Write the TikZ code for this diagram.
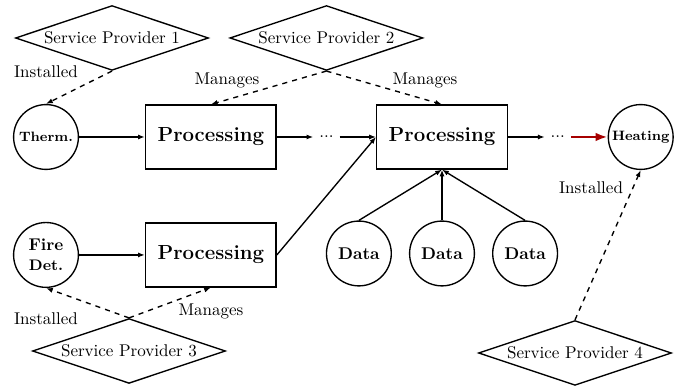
\documentclass[tikz,border=0pt]{standalone}
\usepackage{amsmath}
\usepackage{xcolor}
\usepackage{tikz}
\usetikzlibrary{arrows.meta,positioning,shapes.geometric,calc}

\begin{document}
\begin{tikzpicture}[
node distance=1.4cm,
procbox/.style={draw, thick, minimum width=2.7cm, minimum height=1.32cm, font=\large\bfseries},
sensor/.style={draw, thick, circle, minimum size=1.34cm, inner sep=1pt, align=center, font=\bfseries},
provider/.style={draw, thick, diamond, aspect=3, inner sep=1pt, minimum width=3.99cm, minimum height=1.34cm},
arrow/.style={-{Latex[length=4pt,width=3pt]}, thick},
dasharrow/.style={arrow, dashed},
lbl/.style={inner sep=1pt}
]
\useasboundingbox (-0.951,-5.210) rectangle (13.189,2.832);
\node[sensor, font=\footnotesize\bfseries] (therm) at (0,0) {Therm.};
\node[procbox, right=1.36cm of therm] (proc1) {Processing};
\node[procbox, right=2.05cm of proc1] (proc2) {Processing};
\node[sensor, font=\footnotesize\bfseries, right=2.06cm of proc2] (heat) {Heating};
\node (dots1) at ($(proc1.east)!0.5!(proc2.west)$) {...};
\node (dots2) at ($(proc2.east)!0.5!(heat.west)$) {...};
\node[sensor, below=1.07cm of therm] (fire) {Fire\\\small Det.};
\node[procbox, right=1.36cm of fire] (proc3) {Processing};
\node[sensor, below=1.05cm of proc2] (data2) {Data};
\node[sensor, left=0.35cm of data2] (data1) {Data};
\node[sensor, right=0.35cm of data2] (data3) {Data};
% providers
\node[provider] (sp1) at (1.364,2.047) {Service Provider 1};
\node[provider] (sp2) at (dots1 |- sp1) {Service Provider 2};
\node[provider] (sp3) at (1.716,-4.424) {Service Provider 3};
\node[provider] (sp4) at (10.936,-4.465) {Service Provider 4};
\node[lbl] (inst1) at (0,1.344) {Installed};
\node[lbl] (man1) at (3.742,1.178) {Manages};
\node[lbl] (man2) at (7.835,1.178) {Manages};
\node[lbl] (inst3) at (0,-3.762) {Installed};
\node[lbl] (man3) at (3.411,-3.597) {Manages};
\node[lbl] (inst4) at (11.267,-1.054) {Installed};
% data flow
\draw[arrow] (therm) -- (proc1);
\draw[arrow] (proc1) -- (dots1);
\draw[arrow] (dots1) -- (proc2);
\draw[arrow] (proc2) -- (dots2);
\draw[arrow, red!65!black, line width=1.6pt, -{Latex[length=7pt,width=5pt]}] (dots2) -- (heat);
\draw[arrow] (fire) -- (proc3);
\draw[arrow] (proc3.east) -- (proc2.west);
\foreach \d in {data1,data2,data3}
  \draw[arrow] (\d.north) -- (proc2.south);
% management
\draw[dasharrow] (sp1.south) -- (therm.north);
\draw[dasharrow] (sp2.south) -- (proc1.north);
\draw[dasharrow] (sp2.south) -- (proc2.north);
\draw[dasharrow] (sp3.north) -- (fire.south);
\draw[dasharrow] (sp3.north) -- (proc3.south);
\draw[dasharrow] (sp4.north) -- (heat.south);
\end{tikzpicture}
\end{document}
